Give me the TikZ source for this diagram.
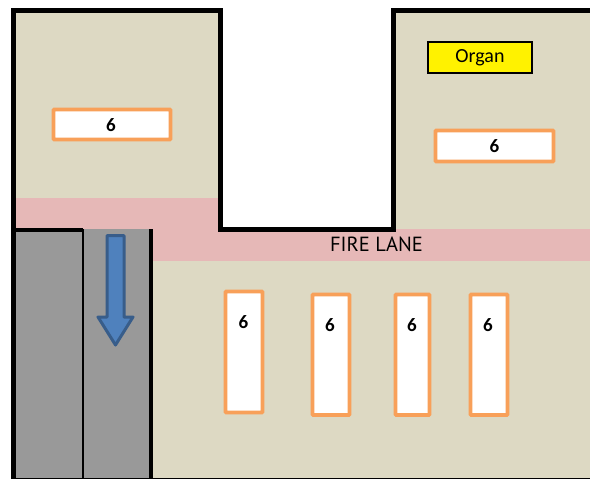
\documentclass[tikz,border=0pt]{standalone}
\usepackage{fontspec}
\setmainfont{Carlito}
\newfontfamily\lanefont{PT Sans}
\definecolor{tan}{HTML}{DDD9C3}
\definecolor{lane}{HTML}{E6B8B7}
\definecolor{pave}{HTML}{999999}
\definecolor{seat}{HTML}{F79646}
\definecolor{arrowfill}{HTML}{4F81BD}
\definecolor{arrowline}{HTML}{385D8A}
\tikzset{
  wall/.style={line width=4.6pt,line cap=rect,line join=miter},
  pew/.style={draw=seat!90!white,fill=white,line width=3.6pt,rounded corners=0.6pt},
  pewnum/.style={font=\fontsize{19}{19}\selectfont\bfseries,inner sep=0pt},
}
\begin{document}
\begin{tikzpicture}[x=1pt,y=-1pt]
\useasboundingbox (0,0) rectangle (590,479);
\fill[white] (0,0) rectangle (590,479);
% floors
\fill[tan] (14,11) rectangle (220,199);
\fill[tan] (394,11) rectangle (590,230);
\fill[tan] (151,260) rectangle (590,478);
\fill[lane] (14,198) rectangle (220,232);
\fill[lane] (151,229) rectangle (590,261);
\fill[pave] (14,229) rectangle (151,478);
% thin lines
\draw[line width=1pt] (11,478.3) -- (590,478.3);
\draw[line width=2.4pt] (83,229) -- (83,478);
\draw[line width=3.6pt] (14,230) -- (83,230);
% walls
\draw[wall] (13.5,478) -- (13.5,10.5) -- (220.5,10.5) -- (220.5,229.5) -- (393.5,229.5) -- (393.5,10.5) -- (590,10.5);
\draw[line width=4pt] (151,229) -- (151,478);
% arrow
\draw[draw=arrowline,fill=arrowfill,line width=3pt,line join=round]
  (107,235.5) -- (124,235.5) -- (124,317) -- (133,317) -- (115.5,345) -- (98,317) -- (107,317) -- cycle;
% pews
\draw[pew] (53.5,109.5) rectangle (170.5,139.5);
\node[pewnum] (a) at (111,125) {6};
\draw[pew] (435.5,130.5) rectangle (553.5,161.5);
\node[pewnum] (b) at (494.5,146) {6};
\draw[pew] (225.5,291.5) rectangle (262.5,412.5);
\node[pewnum] (c) at (243.5,322.5) {6};
\draw[pew] (312.5,294.5) rectangle (349.5,415);
\node[pewnum] (d) at (330,325.5) {6};
\draw[pew] (395.5,294.5) rectangle (429.5,415);
\node[pewnum] (e) at (412,325.5) {6};
\draw[pew] (470.5,294.5) rectangle (507.5,415);
\node[pewnum] (f) at (488,325.5) {6};
% organ
\node[draw=black,fill=yellow,line width=2.2pt,minimum width=104pt,minimum height=31.5pt,inner sep=0pt,font=\fontsize{20}{20}\selectfont] (organ) at (480,57.5) {\raisebox{-0.5pt}{Organ}};
% label
\node[inner sep=0pt,font=\lanefont\fontsize{20.5}{20}\selectfont] (fire) at (376.5,244.5) {FIRE LANE};
\end{tikzpicture}
\end{document}
